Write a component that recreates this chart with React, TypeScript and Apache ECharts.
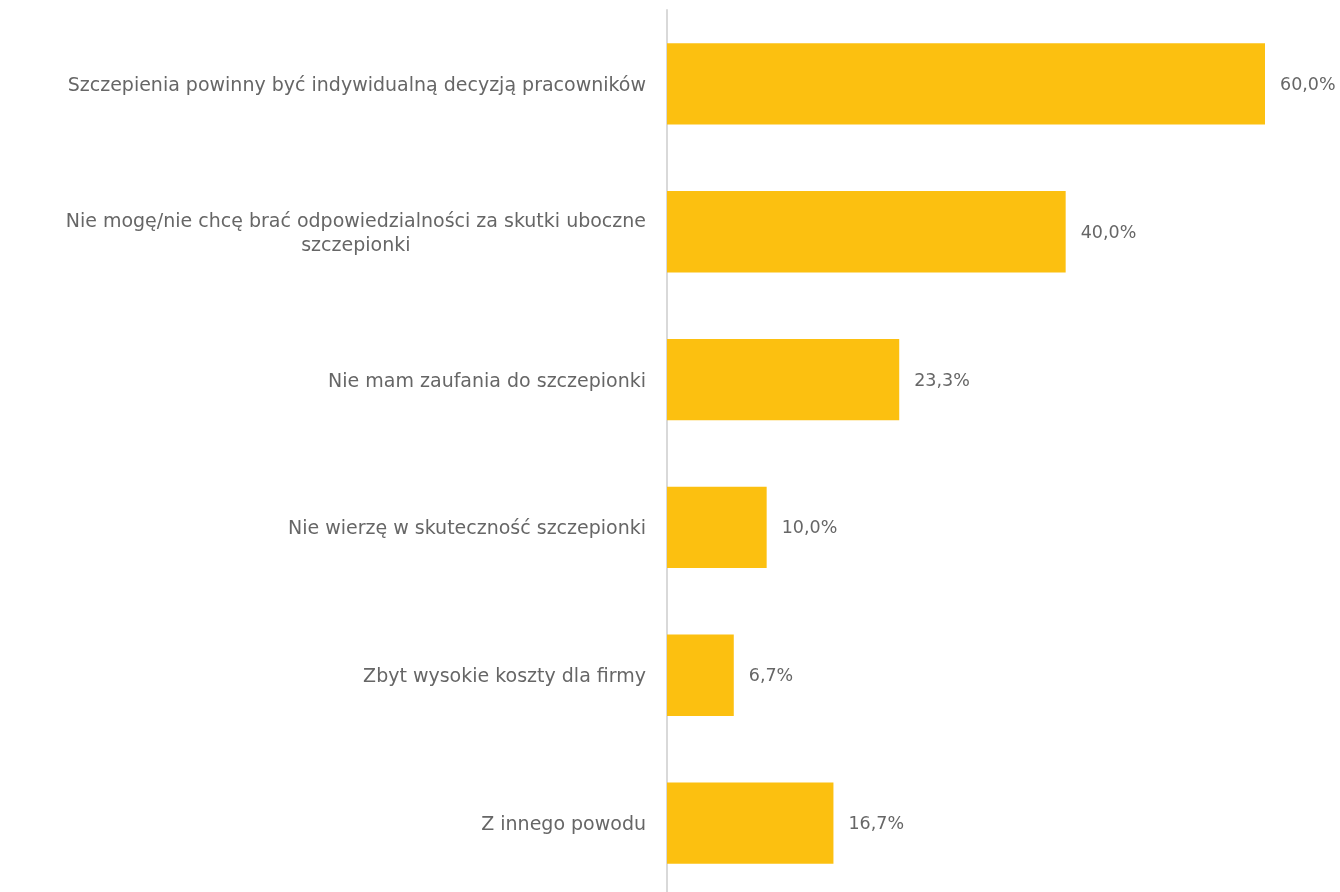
import React, { useEffect, useRef } from "react";
import * as echarts from "echarts";

const categories = [
  "Szczepienia powinny być indywidualną decyzją pracowników",
  "Nie mogę/nie chcę brać odpowiedzialności za skutki uboczne\nszczepionki",
  "Nie mam zaufania do szczepionki",
  "Nie wierzę w skuteczność szczepionki",
  "Zbyt wysokie koszty dla firmy",
  "Z innego powodu",
];
const values = [60.0, 40.0, 23.3, 10.0, 6.7, 16.7];

const FONT = "'DejaVu Sans', sans-serif";
const TEXT = "#666666";

export default function App() {
  const ref = useRef<HTMLDivElement>(null);
  useEffect(() => {
    if (!ref.current) return;
    const chart = echarts.init(ref.current, undefined, { renderer: "svg" });
    chart.setOption({
      animation: false,
      grid: { left: 667, top: 10, width: 598, height: 887, containLabel: false },
      xAxis: {
        type: "value",
        min: 0,
        max: 60,
        show: false,
      },
      yAxis: {
        type: "category",
        inverse: true,
        data: categories,
        axisLine: { show: true, lineStyle: { color: "#d9d9d9", width: 2 } },
        axisTick: { show: false },
        splitLine: { show: false },
        axisLabel: {
          margin: 21,
          fontSize: 19,
          fontFamily: FONT,
          color: TEXT,
          lineHeight: 24,
          formatter: (v: string) =>
            v
              .split("\n")
              .map((l) => `{a|${l}}`)
              .join("\n"),
          rich: {
            a: { align: "center", fontSize: 19, fontFamily: FONT, color: TEXT, lineHeight: 24 },
          },
        },
      },
      series: [
        {
          type: "bar",
          data: values,
          barCategoryGap: "45%",
          itemStyle: { color: "#FCC010" },
          label: {
            show: true,
            position: "right",
            distance: 15,
            fontSize: 17.5,
            fontFamily: FONT,
            color: TEXT,
            formatter: (p: any) => p.value.toFixed(1).replace(".", ",") + "%",
          },
        },
      ],
    });
    return () => chart.dispose();
  }, []);
  return (
    <div
      ref={ref}
      style={{ position: "fixed", left: 0, top: 0, width: 1340, height: 900 }}
    />
  );
}
